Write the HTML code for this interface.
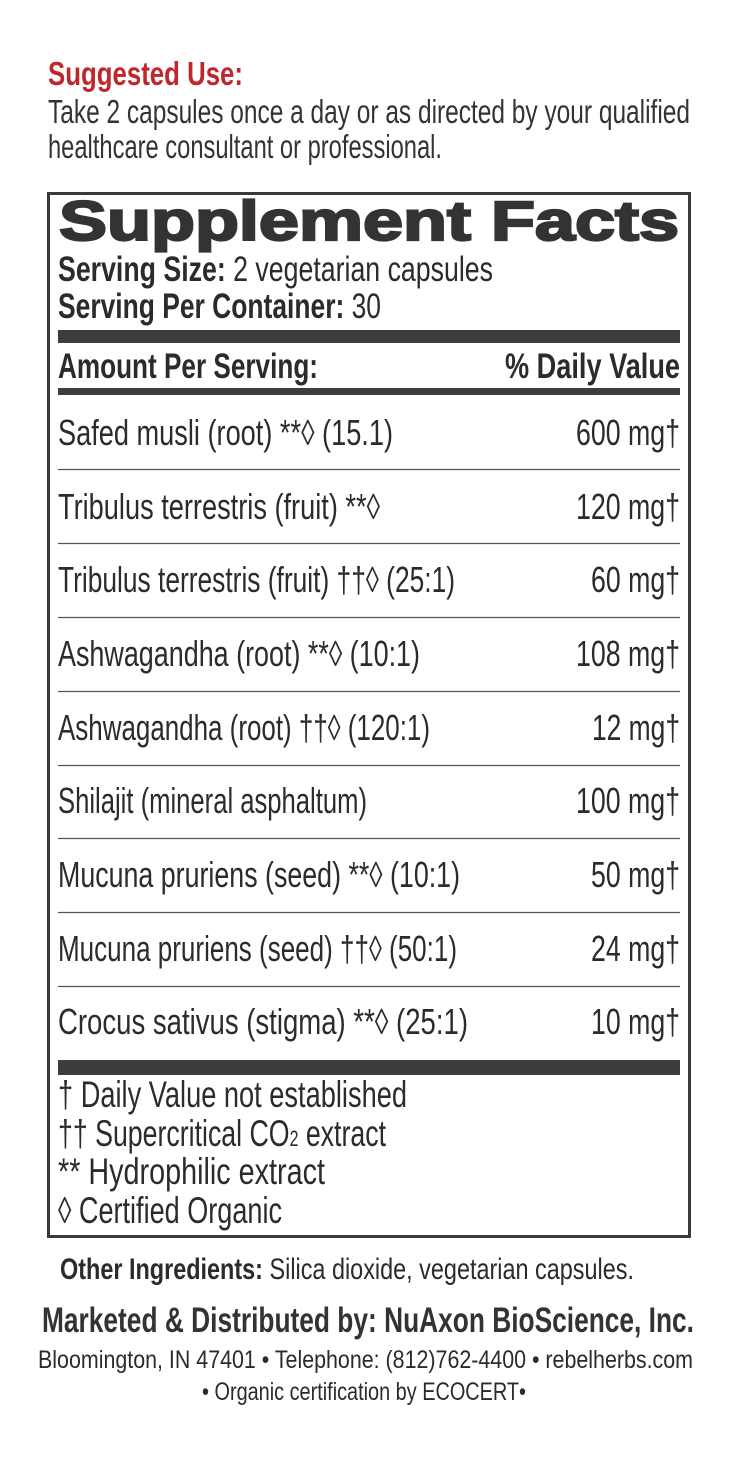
<!DOCTYPE html>
<html><head><meta charset="utf-8"><style>
html,body{margin:0;padding:0;background:#fff;}
svg{display:block;}
text{font-family:"Liberation Sans",sans-serif;fill:#2b2b2b;}
</style></head><body>
<svg width="739" height="1476" viewBox="0 0 739 1476" xmlns="http://www.w3.org/2000/svg">
<text x="48" y="85" font-size="33" font-weight="bold" style="fill:#c0272d" textLength="195" lengthAdjust="spacingAndGlyphs">Suggested Use:</text>
<text x="48" y="123" font-size="33" style="fill:#333" textLength="642" lengthAdjust="spacingAndGlyphs">Take 2 capsules once a day or as directed by your qualified</text>
<text x="48" y="158" font-size="33" style="fill:#333" textLength="394" lengthAdjust="spacingAndGlyphs">healthcare consultant or professional.</text>

<rect x="48.5" y="193.5" width="641" height="1043" fill="none" stroke="#3a3a3a" stroke-width="3"/>
<text x="59" y="240" font-size="56" font-weight="bold" style="fill:#333;stroke:#333;stroke-width:2.2" textLength="620" lengthAdjust="spacingAndGlyphs">Supplement Facts</text>
<text x="58" y="281" font-size="35" textLength="435" lengthAdjust="spacingAndGlyphs"><tspan font-weight="bold">Serving Size:</tspan> 2 vegetarian capsules</text>
<text x="58" y="318" font-size="35" textLength="323" lengthAdjust="spacingAndGlyphs"><tspan font-weight="bold">Serving Per Container:</tspan> 30</text>
<rect x="58" y="330" width="622" height="13" fill="#3d3d3d"/>
<text x="58" y="378" font-size="35" font-weight="bold" textLength="260" lengthAdjust="spacingAndGlyphs">Amount Per Serving:</text>
<text x="680" y="378" font-size="35" font-weight="bold" text-anchor="end" textLength="175" lengthAdjust="spacingAndGlyphs">% Daily Value</text>
<rect x="58" y="388" width="622" height="7" fill="#3d3d3d"/>

<g font-size="36">
<text x="58" y="445" textLength="335" lengthAdjust="spacingAndGlyphs">Safed musli (root) **◊ (15.1)</text>
<text x="680" y="445" text-anchor="end" textLength="104" lengthAdjust="spacingAndGlyphs">600 mg†</text>
<text x="58" y="519" textLength="322" lengthAdjust="spacingAndGlyphs">Tribulus terrestris (fruit) **◊</text>
<text x="680" y="519" text-anchor="end" textLength="104" lengthAdjust="spacingAndGlyphs">120 mg†</text>
<text x="58" y="592" textLength="397" lengthAdjust="spacingAndGlyphs">Tribulus terrestris (fruit) ††◊ (25:1)</text>
<text x="680" y="592" text-anchor="end" textLength="89" lengthAdjust="spacingAndGlyphs">60 mg†</text>
<text x="58" y="666" textLength="362" lengthAdjust="spacingAndGlyphs">Ashwagandha (root) **◊ (10:1)</text>
<text x="680" y="666" text-anchor="end" textLength="104" lengthAdjust="spacingAndGlyphs">108 mg†</text>
<text x="58" y="740" textLength="372" lengthAdjust="spacingAndGlyphs">Ashwagandha (root) ††◊ (120:1)</text>
<text x="680" y="740" text-anchor="end" textLength="88" lengthAdjust="spacingAndGlyphs">12 mg†</text>
<text x="58" y="813" textLength="309" lengthAdjust="spacingAndGlyphs">Shilajit (mineral asphaltum)</text>
<text x="680" y="813" text-anchor="end" textLength="104" lengthAdjust="spacingAndGlyphs">100 mg†</text>
<text x="58" y="887" textLength="402" lengthAdjust="spacingAndGlyphs">Mucuna pruriens (seed) **◊ (10:1)</text>
<text x="680" y="887" text-anchor="end" textLength="89" lengthAdjust="spacingAndGlyphs">50 mg†</text>
<text x="58" y="961" textLength="399" lengthAdjust="spacingAndGlyphs">Mucuna pruriens (seed) ††◊ (50:1)</text>
<text x="680" y="961" text-anchor="end" textLength="89" lengthAdjust="spacingAndGlyphs">24 mg†</text>
<text x="58" y="1034" textLength="410" lengthAdjust="spacingAndGlyphs">Crocus sativus (stigma) **◊  (25:1)</text>
<text x="680" y="1034" text-anchor="end" textLength="89" lengthAdjust="spacingAndGlyphs">10 mg†</text>
</g>
<g stroke="#555" stroke-width="1.2">
<line x1="58" x2="680" y1="469.5" y2="469.5"/>
<line x1="58" x2="680" y1="543.5" y2="543.5"/>
<line x1="58" x2="680" y1="617.5" y2="617.5"/>
<line x1="58" x2="680" y1="691.5" y2="691.5"/>
<line x1="58" x2="680" y1="765.5" y2="765.5"/>
<line x1="58" x2="680" y1="838.5" y2="838.5"/>
<line x1="58" x2="680" y1="912.5" y2="912.5"/>
<line x1="58" x2="680" y1="986.5" y2="986.5"/>
</g>
<rect x="58" y="1060" width="622" height="15" fill="#3d3d3d"/>

<g font-size="37">
<text x="58" y="1107" textLength="349" lengthAdjust="spacingAndGlyphs">† Daily Value not established</text>
<text x="58" y="1146" textLength="328" lengthAdjust="spacingAndGlyphs">†† Supercritical CO<tspan font-size="22">2</tspan> extract</text>
<text x="58" y="1184" textLength="267" lengthAdjust="spacingAndGlyphs">** Hydrophilic extract</text>
<text x="58" y="1223" textLength="224" lengthAdjust="spacingAndGlyphs">◊ Certified Organic</text>
</g>

<text x="60" y="1279" font-size="30" textLength="574" lengthAdjust="spacingAndGlyphs"><tspan font-weight="bold">Other Ingredients:</tspan> Silica dioxide, vegetarian capsules.</text>
<text x="42" y="1332" font-size="35" font-weight="bold" style="fill:#333" textLength="652" lengthAdjust="spacingAndGlyphs">Marketed &amp; Distributed by: NuAxon BioScience, Inc.</text>
<text x="38" y="1368" font-size="25" textLength="655" lengthAdjust="spacingAndGlyphs">Bloomington, IN 47401 • Telephone: (812)762-4400 • rebelherbs.com</text>
<text x="202" y="1400" font-size="25" textLength="324" lengthAdjust="spacingAndGlyphs">• Organic certification by ECOCERT•</text>
</svg>
</body></html>
